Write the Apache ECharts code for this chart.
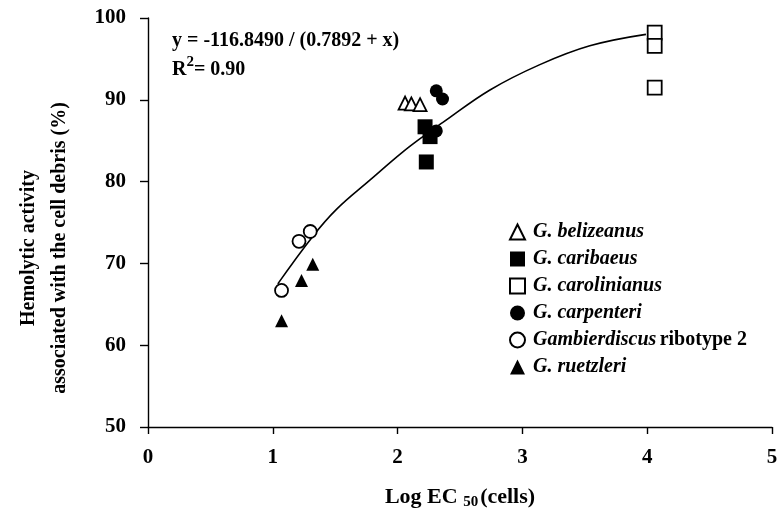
<!DOCTYPE html>
<html lang="en">
<head>
    <meta charset="UTF-8" />
    <title>Hemolytic activity vs Log EC50</title>
    <script src="https://cdn.jsdelivr.net/npm/echarts@6/dist/echarts.min.js"></script>
    <style>
        html, body { margin: 0; padding: 0; background: #fff; }
        #main { width: 780px; height: 519px; }
    </style>
</head>
<body>
    <div id="main"></div>
<script type="text/javascript">
    // data: [log EC50, hemolytic activity %]
    var belizeanus   = [[2.06, 89.6], [2.11, 89.5], [2.18, 89.4]];
    var caribaeus    = [[2.22, 86.7], [2.26, 85.5], [2.23, 82.4]];
    var carolinianus = [[4.06, 98.2], [4.06, 96.6], [4.06, 91.5]];
    var carpenteri   = [[2.31, 91.1], [2.36, 90.1], [2.31, 86.2]];
    var ribotype2    = [[1.07, 66.7], [1.21, 72.7], [1.30, 73.9]];
    var ruetzleri    = [[1.07, 63.0], [1.23, 67.9], [1.32, 69.9]];
    // fitted curve
    var fitCurve = [[1.04, 67.5], [1.32, 73.3], [1.51, 76.6], [1.78, 80.2], [2.04, 83.6],
                    [2.23, 85.8], [2.36, 87.2], [2.74, 91.2], [3.14, 94.3], [3.54, 96.6], [3.99, 98.0]];
    var xTicks = [0, 1, 2, 3, 4, 5];
    var yTicks = [50, 60, 70, 80, 90, 100];

    var serif = '"Liberation Serif", "DejaVu Serif", serif';

    function pts(name, data, symbol, filled, size) {
        return {
            name: name,
            type: 'scatter',
            data: data,
            symbol: symbol,
            symbolSize: size,
            itemStyle: {
                color: filled ? '#000' : '#fff',
                borderColor: '#000',
                borderWidth: filled ? 0 : 1.8,
                opacity: 1
            },
            z: 3
        };
    }

    var chart = echarts.init(document.getElementById('main'));
    chart.setOption({
        animation: false,
        grid: { left: 148, right: 8, top: 18, bottom: 92, outerBoundsMode: 'none' },
        xAxis: {
            type: 'value',
            min: xTicks[0],
            max: xTicks[xTicks.length - 1],
            interval: 1,
            name: '{t|Log EC }{s|50}{t|(cells)}',
            nameLocation: 'middle',
            nameGap: 58,
            nameTextStyle: {
                rich: {
                    t: { fontFamily: serif, fontWeight: 'bold', fontSize: 22, color: '#000' },
                    s: { fontFamily: serif, fontWeight: 'bold', fontSize: 15, color: '#000', verticalAlign: 'bottom', padding: [10, 2, 0, 0] }
                }
            },
            axisLine: { lineStyle: { color: '#000', width: 1.4 } },
            axisTick: { show: true, length: 7, lineStyle: { color: '#000', width: 1.4 } },
            axisLabel: { fontFamily: serif, fontWeight: 'bold', fontSize: 21, color: '#000', margin: 20 },
            splitLine: { show: false }
        },
        yAxis: {
            type: 'value',
            min: yTicks[0],
            max: yTicks[yTicks.length - 1],
            interval: 10,
            axisLine: { show: true, lineStyle: { color: '#000', width: 1.4 } },
            axisTick: { show: true, length: 8, lineStyle: { color: '#000', width: 1.4 } },
            axisLabel: { fontFamily: serif, fontWeight: 'bold', fontSize: 21, color: '#000', margin: 22 },
            splitLine: { show: false }
        },
        legend: {
            left: 504,
            top: 217,
            orient: 'vertical',
            itemGap: 7,
            itemWidth: 15,
            itemHeight: 15,
            data: ['G. belizeanus', 'G. caribaeus', 'G. carolinianus', 'G. carpenteri',
                   'Gambierdiscus ribotype 2', 'G. ruetzleri'],
            formatter: function (name) {
                if (name === 'Gambierdiscus ribotype 2') return '{i|Gambierdiscus} {n|ribotype 2}';
                return '{i|' + name + '}';
            },
            textStyle: {
                padding: [0, 0, 0, 3],
                rich: {
                    i: { fontFamily: serif, fontWeight: 'bold', fontStyle: 'italic', fontSize: 20, lineHeight: 20, color: '#000' },
                    n: { fontFamily: serif, fontWeight: 'bold', fontSize: 20, lineHeight: 20, color: '#000' }
                }
            }
        },
        graphic: [
            {
                // y axis title, two lines, sits a little below the plot's centre
                type: 'text',
                x: 44,
                y: 248,
                rotation: Math.PI / 2,
                style: {
                    text: 'Hemolytic activity\nassociated with the cell debris (%)',
                    font: 'bold 20px ' + serif,
                    lineHeight: 31,
                    fill: '#000',
                    align: 'center',
                    verticalAlign: 'middle'
                }
            },
            {
                type: 'text',
                left: 172,
                top: 31,
                style: {
                    text: 'y = -116.8490 / (0.7892 + x)',
                    font: 'bold 20px ' + serif,
                    fill: '#000'
                }
            },
            {
                type: 'text',
                left: 172,
                top: 55,
                style: {
                    text: '{a|R}{b|2}{a|= 0.90}',
                    rich: {
                        a: { font: 'bold 20px ' + serif, fill: '#000', verticalAlign: 'bottom' },
                        b: { font: 'bold 15px ' + serif, fill: '#000', verticalAlign: 'top', padding: [0, 0, 10, 0] }
                    }
                }
            }
        ],
        series: [
            {
                name: 'fit',
                type: 'line',
                data: fitCurve,
                smooth: 0.4,
                showSymbol: false,
                lineStyle: { color: '#000', width: 1.6 },
                z: 2
            },
            pts('G. belizeanus', belizeanus, 'triangle', false, 13),
            pts('G. caribaeus', caribaeus, 'rect', true, 15),
            pts('G. carolinianus', carolinianus, 'rect', false, 14),
            pts('G. carpenteri', carpenteri, 'circle', true, 13),
            pts('Gambierdiscus ribotype 2', ribotype2, 'circle', false, 13),
            pts('G. ruetzleri', ruetzleri, 'triangle', true, 13)
        ]
    });
</script>
</body>
</html>
